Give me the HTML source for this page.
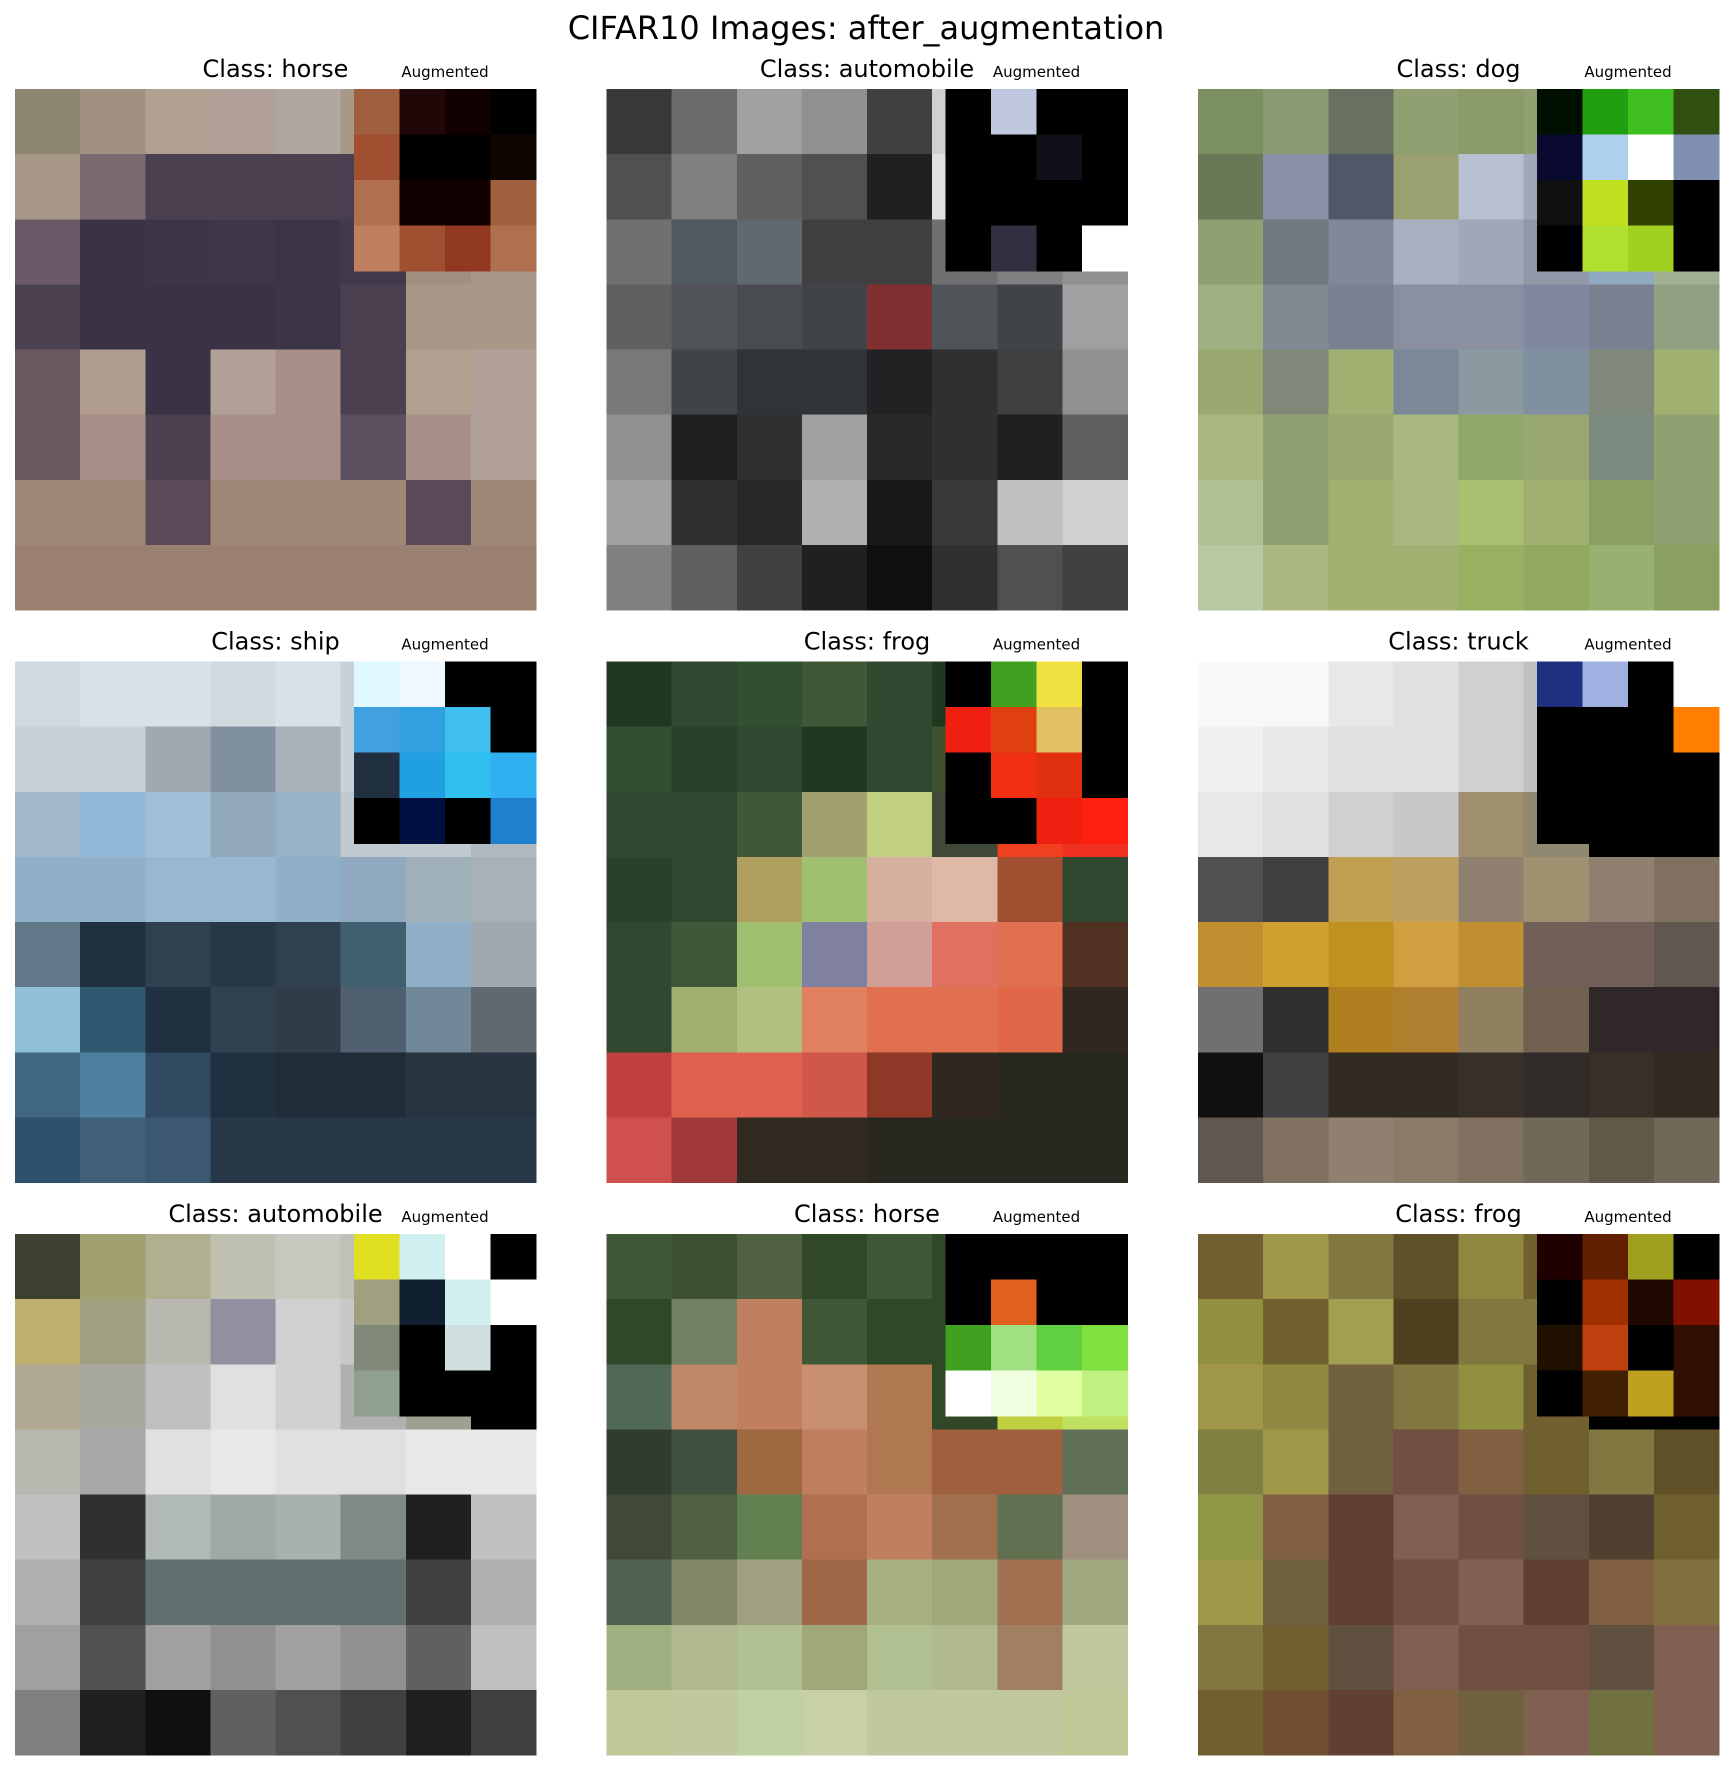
<!DOCTYPE html>
<html><head><meta charset="utf-8"><style>
html,body{margin:0;padding:0;background:#fff;}
svg{display:block;font-family:"DejaVu Sans","Liberation Sans",sans-serif;}
</style></head><body>
<svg id="fig" width="1733" height="1771" viewBox="0 0 1733 1771">
<text x="866" y="39" text-anchor="middle" font-size="32" fill="#000">CIFAR10 Images: after_augmentation</text>
</svg>
<script>
const classes=["horse","automobile","dog","ship","frog","truck","automobile","horse","frog"];
const images=[
["8c8570","a09080","b0a090","b0a098","b0a8a0","a89888","9a8a78","8a7a68","a89888","7a6a70","4a4050","4a4050","4a4050","4a3f50","b0a090","a89888","6a5a68","3a3345","3c3548","3e374a","3c3548","403a4c","a09080","a89888","4a4050","3a3345","3a3345","3a3345","3c3548","4a4050","a89888","a89888","6a5a60","b09c90","3a3345","b0a098","a89088","4a4050","b0a090","b0a098","6a5860","a89088","4a4050","a89088","a89088","5a5060","a89088","b0a098","a08878","a08878","5a4a58","a08878","a08878","a08878","5a4a58","a08878","9a8070","9a8070","9a8070","9a8070","9a8070","9a8070","9a8070","9a8070"],
["383838","6a6a6a","a0a0a0","909090","404040","d0d0d0","101018","202030","505050","808080","606060","505050","202020","e0e0e0","000008","101018","707070","505860","606870","404040","404040","707070","808080","909090","606060","505458","484c50","404448","803030","505458","404448","a0a0a0","787878","404448","303438","303438","202224","303030","404040","909090","909090","202020","303030","a0a0a0","282828","303030","202020","606060","a0a0a0","303030","282828","b0b0b0","181818","383838","c0c0c0","d0d0d0","808080","606060","404040","202020","101010","303030","505050","404040"],
["7a9060","8a9a70","6a7060","90a070","8a9a68","90a070","70a020","80b030","6a7858","8890a8","505868","9aa070","b8c0d0","a0a8b8","101818","d8e8f0","90a070","707880","808898","a8b0c0","a0a8b8","9098a8","90a8c0","a0b090","a0b080","808890","7a8090","8a90a0","8a90a0","8088a0","7a8090","90a080","98a870","80887a","a0b070","7a8898","8a9aa0","8090a0","80887a","a0b070","a8b880","90a070","98a870","a8b880","90a868","98a870","7a8a80","90a070","b0c090","90a070","a0b070","a8b880","a8c070","a0b070","8aa060","90a070","b8c8a0","a8b880","a0b070","a0b070","98b060","90a860","98b070","8aa060"],
["d0d8e0","d8e0e8","d8e0e8","d0d8e0","d8e0e8","c8d0d8","e0f0ff","000000","c8d0d8","c8d0d8","a0a8b0","8090a0","a8b0b8","c8d0d8","50a8e0","000000","a0b8c8","90b8d8","a0c0d8","90a8b8","98b0c8","c0c8d0","c0c8d0","b0b8c0","90b0c8","90b0c8","98b8d0","98b8d0","90b0c8","90a8c0","a0b0b8","a8b0b8","607888","203040","304050","283848","304050","406070","90b0c8","a0a8b0","90c0d8","305870","203040","304050","303c48","506070","708898","606870","406880","5080a0","304860","203040","202c38","202c38","283440","283440","305070","406078","3c5870","283848","283848","283848","283848","283848"],
["203820","304830","305030","405838","304830","203820","000000","000000","305030","2a402a","304830","203820","304830","405030","f04020","000000","304830","304830","405838","a0a070","c0d080","404838","f04020","f03020","2a402a","304830","b0a060","a0c070","d8b0a0","e0b8a8","a05030","304830","304830","405838","a0c070","8080a0","d0a098","e07060","e07050","503020","304830","a0b070","b0c080","e08060","e07050","e07050","e06848","302820","c04040","e06050","e06050","d05848","903828","302820","282820","282820","d05050","a03838","302a20","302a20","282820","282820","282820","282820"],
["f8f8f8","f8f8f8","e8e8e8","e0e0e0","d0d0d0","c0c0c0","202860","ffffff","f0f0f0","e8e8e8","e0e0e0","e0e0e0","d0d0d0","c0c0c0","000000","000000","e8e8e8","e0e0e0","d0d0d0","c8c8c8","a09070","908870","000000","000000","505050","404040","c0a050","c0a060","908070","a09070","908070","807060","c09030","d0a030","c09020","d0a040","c09030","706058","706058","605850","707070","303030","b08020","b08030","908060","706050","302828","302828","101010","404040","302a20","302a20","383028","302a28","383028","302a20","605850","807060","908070","8a7a68","807060","706858","605848","706858"],
["404030","a0a070","b0b090","c0c0b0","c8c8c0","c0c0b8","101010","d0e8f0","c0b070","a0a080","b8b8b0","9090a0","d0d0d0","c8c8c8","80a060","000000","b0a890","a8a8a0","c0c0c0","e0e0e0","d0d0d0","b0b0b0","a0a090","000000","b8b8b0","a8a8a8","e0e0e0","e8e8e8","e0e0e0","e0e0e0","e8e8e8","e8e8e8","c0c0c0","303030","b0b8b8","a0a8a8","a8b0b0","808888","202020","c0c0c0","b0b0b0","404040","607070","607070","607070","607070","404040","b0b0b0","a0a0a0","505050","a0a0a0","909090","a0a0a0","909090","606060","c0c0c0","808080","202020","101010","606060","505050","404040","202020","404040"],
["405838","3a5030","506040","304828","405838","304828","000000","000000","304828","708060","c08060","405838","304828","304828","000000","e06020","506858","c08868","c08060","c89070","b07850","304828","c0d040","c0e060","303c30","405040","a06840","c08060","b07850","a06040","a06040","607058","404838","506040","608050","b07050","c08060","a07050","607050","a09080","506050","808868","a0a080","a06848","a8b080","a0a878","a07050","a0a880","a0b080","b0b890","b0c090","a0a878","b0c090","b0b890","a08060","c0c8a0","c0c898","c0c8a0","c0d0a0","c8d0a8","c0c8a0","c0c8a0","c0c8a0","c0c898"],
["706030","a09848","807840","605028","908840","706030","100000","000000","909040","706030","a0a050","504020","807840","807840","301000","402000","a09848","908840","706040","807840","909040","706030","000000","000000","808040","a09848","706040","705040","806040","706030","807840","605028","909848","806040","604030","806050","705040","605040","504030","706030","a09848","706040","604030","705040","806050","604030","806040","807040","807840","706030","605040","806050","705040","705040","605040","806050","706030","705030","604030","806040","706040","806050","707040","806050"]
];
const insets=[
["a06040","200808","100000","000000","a05030","000000","000000","100500","b07050","100000","100000","a06040","c08060","a05030","903820","b07050"],
["000000","c0c8e0","000000","000000","000000","000000","101018","000000","000000","000000","000000","000000","000000","303040","000000","ffffff"],
["001000","20a010","40c020","305010","0a0a30","b0d0f0","ffffff","8090b0","101010","c0e020","304000","000000","000000","b0e030","a0d020","000000"],
["e0f8ff","f0f8ff","000000","000000","40a0e0","30a0e0","40c0f0","000000","203040","20a0e0","30c0f0","30b0f0","000000","001040","000000","2080d0"],
["000000","40a020","f0e040","000000","f02010","e04010","e0c060","000000","000000","f03010","e03010","000000","000000","000000","f02010","ff2010"],
["203080","a0b0e0","000000","ffffff","000000","000000","000000","ff8000","000000","000000","000000","000000","000000","000000","000000","000000"],
["e0e020","d0f0f0","ffffff","000000","a0a080","102030","d0f0f0","ffffff","808878","000000","d0e0e0","000000","90a090","000000","000000","000000"],
["000000","000000","000000","000000","000000","e06020","000000","000000","40a020","a0e080","60d040","80e040","ffffff","f0ffe0","e0ffa0","c0f080"],
["200000","602000","a0a020","000000","000000","a03000","200800","801000","201000","c04010","000000","301000","000000","402000","c0a020","301000"]
];
const NS="http://www.w3.org/2000/svg";
const svg=document.getElementById('fig');
const colX=[15,606.5,1198], rowY=[89,661.5,1234], S=521, IN=182;
function mk(t,a){const e=document.createElementNS(NS,t);for(const k in a)e.setAttribute(k,a[k]);return e;}
for(let p=0;p<9;p++){
  const x0=colX[p%3], y0=rowY[Math.floor(p/3)];
  const g=mk('g',{'shape-rendering':'crispEdges'});
  
  
  svg.appendChild(g);
  const n=8, c=S/n;
  images[p].forEach((col,i)=>{
    const r=mk('rect',{x:(x0+(i%n)*c).toFixed(2),y:(y0+Math.floor(i/n)*c).toFixed(2),width:(c+0.6).toFixed(2),height:(c+0.6).toFixed(2),fill:'#'+col});
    
    
    g.appendChild(r);
  });
  const m=4, ic=IN/m, ix=x0+S-IN;
  insets[p].forEach((col,i)=>{
    const r=mk('rect',{x:(ix+(i%m)*ic).toFixed(2),y:(y0+Math.floor(i/m)*ic).toFixed(2),width:(ic+0.6).toFixed(2),height:(ic+0.6).toFixed(2),fill:'#'+col});
    
    
    g.appendChild(r);
  });
  const t=mk('text',{x:x0+S/2,y:y0-12,'text-anchor':'middle','font-size':'24',fill:'#000'});
  t.textContent='Class: '+classes[p];
  
  
  svg.appendChild(t);
  const a=mk('text',{x:ix+IN/2,y:y0-12,'text-anchor':'middle','font-size':'15',fill:'#000'});
  a.textContent='Augmented';
  
  
  svg.appendChild(a);
}
</script>
</body></html>
